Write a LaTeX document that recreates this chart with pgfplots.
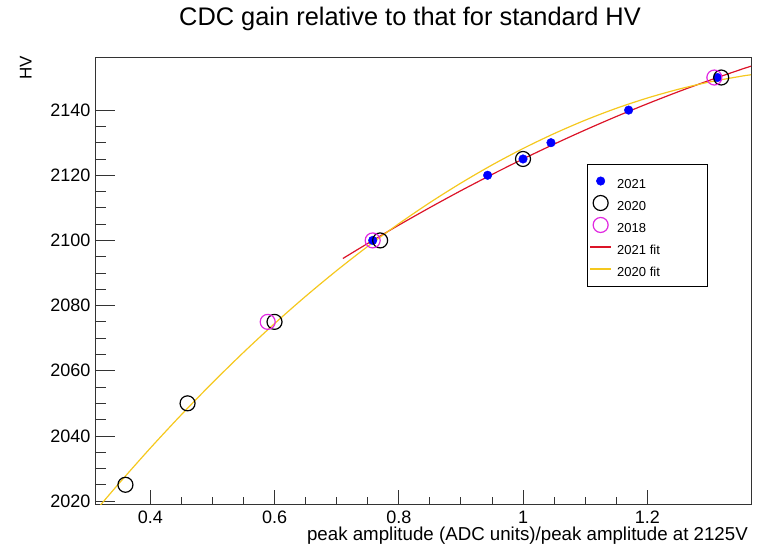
\documentclass[border=0pt]{standalone}
\usepackage{fontspec}
\setmainfont{Liberation Sans}
\usepackage{pgfplots}
\pgfplotsset{compat=1.18}
\definecolor{fitred}{RGB}{220,20,40}
\definecolor{fityel}{RGB}{245,200,30}
\definecolor{rootmag}{RGB}{225,40,225}
\newcommand{\lent}[1]{\rule[-5.5bp]{0pt}{22bp}\hspace*{3.5bp}\makebox[85.5bp][l]{#1}}
\begin{document}
\begin{tikzpicture}
\begin{axis}[
  name=ax,
  scale only axis,
  width=656bp, height=447bp,
  xmin=0.311, xmax=1.367, ymin=2019.1, ymax=2156.3,
  xtick={0.4,0.6,0.8,1,1.2},
  ytick={2020,2040,2060,2080,2100,2120,2140},
  minor x tick num=3, minor y tick num=3,
  tick pos=left, tick align=inside,
  scaled ticks=false,
  /pgf/number format/1000 sep={},
  /pgf/number format/assume math mode=true,
  xtick style={/pgfplots/major tick length=14bp,/pgfplots/minor tick length=7bp,line width=0.8bp,black!80},
  ytick style={/pgfplots/major tick length=20bp,/pgfplots/minor tick length=11bp,line width=0.8bp,black!80},
  axis line style={line width=0.8bp,black!80},
  ticklabel style={font=\fontsize{18bp}{20bp}\selectfont},
  xticklabel style={inner sep=0pt, anchor=north, yshift=-6.5bp},
  yticklabel style={inner sep=0pt, anchor=east, xshift=-4.5bp},
  legend style={at={(rel axis cs:0.75,0.761)}, anchor=north west, fill=white,
    inner xsep=2.35bp, inner ysep=6bp, row sep=0bp,
    font=\fontsize{13bp}{15bp}\selectfont},
  legend cell align=left,
  legend image code/.code={\draw[mark repeat=2,mark phase=2,#1] plot coordinates {(0bp,0bp) (10.5bp,0bp) (21bp,0bp)};},
]
\addplot[only marks, mark=*, mark size=4.3bp, color=blue] coordinates {
 (0.758,2100) (0.943,2120) (1.0,2125) (1.045,2130) (1.17,2140) (1.313,2150)};
\addlegendentry{\lent{2021}}
\addplot[only marks, mark=o, mark size=7.5bp, black, mark options={line width=1.2bp}] coordinates {
 (0.36,2025) (0.46,2050) (0.6,2075) (0.77,2100) (1.0,2125) (1.319,2150)};
\addlegendentry{\lent{2020}}
\addplot[only marks, mark=o, mark size=7.5bp, rootmag, mark options={line width=1.2bp}] coordinates {
 (0.589,2075) (0.758,2100) (1.308,2150)};
\addlegendentry{\lent{2018}}
\addplot[color=fitred, line width=1.2bp, smooth] coordinates {
 (0.71,2094.45) (0.75,2099.08) (0.80,2104.69) (0.85,2110.08) (0.90,2115.27) (0.95,2120.23)
 (1.00,2125.00) (1.05,2129.55) (1.10,2133.89) (1.15,2138.02) (1.20,2141.93) (1.25,2145.64)
 (1.30,2149.13) (1.35,2152.42) (1.367,2153.48)};
\addlegendentry{\lent{2021 fit}}
\addplot[color=fityel, line width=1.2bp, smooth] coordinates {
 (0.32,2018.82) (0.35,2025.50) (0.40,2036.24) (0.45,2046.50) (0.50,2056.29) (0.55,2065.62)
 (0.60,2074.47) (0.65,2082.84) (0.70,2090.74) (0.75,2098.17) (0.80,2105.12) (0.85,2111.60)
 (0.90,2117.60) (0.95,2123.14) (1.00,2128.20) (1.05,2132.78) (1.10,2136.90) (1.15,2140.54)
 (1.20,2143.70) (1.25,2146.39) (1.30,2148.62) (1.35,2150.36) (1.367,2150.84)};
\addlegendentry{\lent{2020 fit}}
\end{axis}
\node[anchor=base, inner sep=0pt, font=\fontsize{25.4bp}{28bp}\selectfont] at ([xshift=315bp,yshift=31bp]ax.north west) {CDC gain relative to that for standard HV};
\node[anchor=base east, inner sep=0pt, font=\fontsize{18.7bp}{20bp}\selectfont] at ([xshift=-3bp,yshift=-36.5bp]ax.south east) {peak amplitude (ADC units)/peak amplitude at 2125V};
\node[rotate=90, anchor=south east, inner sep=0pt, font=\fontsize{17bp}{19bp}\selectfont] at ([xshift=-63.3bp,yshift=1bp]ax.north west) {HV};
\pgfresetboundingbox
\path[use as bounding box] ([xshift=-95bp,yshift=-42bp]ax.south west) rectangle ([xshift=14bp,yshift=57bp]ax.north east);
\end{tikzpicture}
\end{document}
